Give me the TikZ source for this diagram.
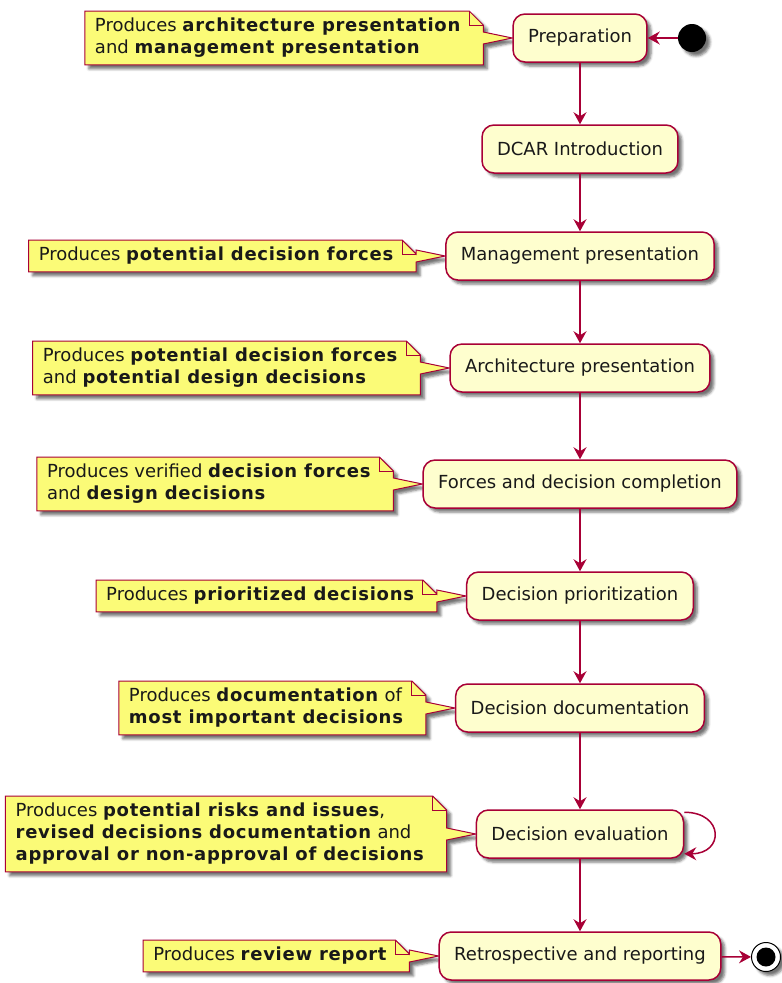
\documentclass[tikz,border=0pt]{standalone}
\usepackage{fontspec}
\setmainfont{DejaVu Sans}[BoldFeatures={LetterSpace=4}]
\usetikzlibrary{arrows.meta,positioning,backgrounds,shadows.blur}
\definecolor{actfill}{HTML}{FEFECE}
\definecolor{actline}{HTML}{A80036}
\definecolor{notefill}{HTML}{FBFB77}
\tikzset{
  softshadow/.style={blur shadow={shadow xshift=4pt, shadow yshift=-4pt, shadow blur radius=2.5pt, shadow opacity=55}},
  activity/.style={draw=actline, line width=1.5pt, fill=actfill, rounded corners=12pt,
    minimum height=48pt, inner xsep=15pt, text=black!90,
    font=\fontsize{18}{22}\selectfont, softshadow},
  notetext/.style={inner xsep=10pt, inner ysep=7pt, align=left, text=black!90,
    font=\fontsize{18}{22}\selectfont},
  noteshape/.style={draw=actline, line width=1pt, fill=notefill, softshadow},
  foldline/.style={draw=actline, line width=1pt},
  flow/.style={draw=actline, line width=1.5pt, -{Stealth[length=12pt,width=13pt,inset=4pt]}},
}
% outline of a note with folded corner and a pointer towards its activity
\newcommand\noteoutline[2]{%
  \path[noteshape] (#1.north west) -- ([xshift=-2pt]#1.north east)
    -- ([xshift=12pt,yshift=-14pt]#1.north east)
    -- ([xshift=12pt,yshift=6pt]#1.east) -- (#2.west)
    -- ([xshift=12pt,yshift=-6pt]#1.east)
    -- ([xshift=12pt]#1.south east) -- (#1.south west) -- cycle;
  \draw[foldline] ([xshift=-2pt]#1.north east) -- ([xshift=-2pt,yshift=-14pt]#1.north east)
    -- ([xshift=12pt,yshift=-14pt]#1.north east);}
\begin{document}
\begin{tikzpicture}[x=1pt,y=-1pt]
\useasboundingbox (0,0) rectangle (782,983);

% activities
\node[activity] (prep)  at (580,38)  {Preparation};
\node[activity] (intro) at (580,149) {DCAR Introduction};
\node[activity] (mgmt)  at (580,256) {Management presentation};
\node[activity] (arch)  at (580,368) {Architecture presentation};
\node[activity] (force) at (580,484) {Forces and decision completion};
\node[activity] (prio)  at (580,596) {Decision prioritization};
\node[activity] (docu)  at (580,708) {Decision documentation};
\node[activity] (eval)  at (580,834) {Decision evaluation};
\node[activity] (retro) at (580,956) {Retrospective and reporting};

% start and end markers
\node[circle, fill=black, minimum size=28pt, inner sep=0pt, softshadow] (start) at (692,38) {};
\node[circle, draw=black, line width=1pt, fill=white, minimum size=29pt, inner sep=0pt, softshadow] (stop) at (766,957) {};
\node[circle, fill=black, minimum size=19pt, inner sep=0pt] (stopdot) at (stop) {};

% note texts
\node[notetext, left=41pt of prep]  (n1) {Produces \textbf{architecture presentation}\\and \textbf{management presentation}};
\node[notetext, left=41pt of mgmt]  (n2) {Produces \textbf{potential decision forces}};
\node[notetext, left=41pt of arch]  (n3) {Produces \textbf{potential decision forces}\\and \textbf{potential design decisions}};
\node[notetext, left=41pt of force] (n4) {Produces verified \textbf{decision forces}\\and \textbf{design decisions}};
\node[notetext, left=41pt of prio]  (n5) {Produces \textbf{prioritized decisions}};
\node[notetext, left=41pt of docu]  (n6) {Produces \textbf{documentation} of\\\textbf{most important decisions}};
\node[notetext, left=41pt of eval]  (n7) {Produces \textbf{potential risks and issues},\\\textbf{revised decisions documentation} and\\\textbf{approval or non-approval of decisions}};
\node[notetext, left=41pt of retro] (n8) {Produces \textbf{review report}};

\begin{scope}[on background layer]
  \noteoutline{n1}{prep}
  \noteoutline{n2}{mgmt}
  \noteoutline{n3}{arch}
  \noteoutline{n4}{force}
  \noteoutline{n5}{prio}
  \noteoutline{n6}{docu}
  \noteoutline{n7}{eval}
  \noteoutline{n8}{retro}
\end{scope}

% control flow
\draw[flow] (start) -- (prep);
\draw[flow] (prep) -- (intro);
\draw[flow] (intro) -- (mgmt);
\draw[flow] (mgmt) -- (arch);
\draw[flow] (arch) -- (force);
\draw[flow] (force) -- (prio);
\draw[flow] (prio) -- (docu);
\draw[flow] (docu) -- (eval);
\draw[flow] ([yshift=-3pt]eval.north east) .. controls +(40,0) and +(40,0) .. ([yshift=5pt]eval.south east);
\draw[flow] (eval) -- (retro);
\draw[flow] (retro) -- (stop);
\end{tikzpicture}
\end{document}
